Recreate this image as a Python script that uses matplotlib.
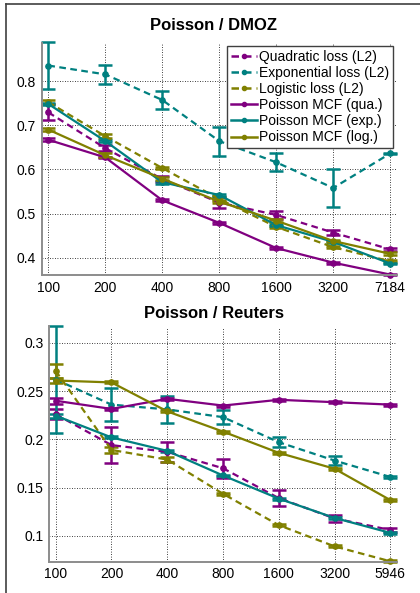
import matplotlib
matplotlib.use("Agg")
import matplotlib.pyplot as plt
from matplotlib.lines import Line2D

plt.rcParams['font.family'] = ['Liberation Sans', 'DejaVu Sans']

series_names = ["Quadratic loss (L2)", "Exponential loss (L2)", "Logistic loss (L2)",
                "Poisson MCF (qua.)", "Poisson MCF (exp.)", "Poisson MCF (log.)"]
series_colors = ["#800080", "#008080", "#808000", "#800080", "#008080", "#808000"]
series_styles = ["--", "--", "--", "-", "-", "-"]

# Poisson / DMOZ
dmoz_ticks = ["100", "200", "400", "800", "1600", "3200", "7184"]
dmoz_quad = [0.729, 0.648, 0.578, 0.525, 0.497, 0.457, 0.419]
dmoz_quad_err = [0.018, 0.007, 0.007, 0.012, 0.009, 0.006, 0.004]
dmoz_exp = [0.835, 0.815, 0.757, 0.664, 0.616, 0.558, 0.636]
dmoz_exp_err = [0.053, 0.022, 0.021, 0.033, 0.02, 0.042, 0.002]
dmoz_log = [0.752, 0.675, 0.603, 0.533, 0.470, 0.424, 0.392]
dmoz_log_err = [0.005, 0.005, 0.003, 0.004, 0.003, 0.003, 0.002]
dmoz_mcf_qua = [0.667, 0.627, 0.530, 0.479, 0.422, 0.389, 0.362]
dmoz_mcf_qua_err = [0.003, 0.002, 0.002, 0.002, 0.002, 0.002, 0.002]
dmoz_mcf_exp = [0.748, 0.664, 0.571, 0.542, 0.474, 0.436, 0.387]
dmoz_mcf_exp_err = [0.003, 0.003, 0.003, 0.003, 0.003, 0.002, 0.002]
dmoz_mcf_log = [0.690, 0.632, 0.579, 0.527, 0.484, 0.438, 0.409]
dmoz_mcf_log_err = [0.003, 0.004, 0.004, 0.004, 0.003, 0.003, 0.003]

# Poisson / Reuters
reut_ticks = ["100", "200", "400", "800", "1600", "3200", "5946"]
reut_quad = [0.226, 0.194, 0.187, 0.170, 0.139, 0.118, 0.106]
reut_quad_err = [0.005, 0.019, 0.010, 0.010, 0.008, 0.004, 0.002]
reut_exp = [0.262, 0.236, 0.231, 0.223, 0.197, 0.178, 0.161]
reut_exp_err = [0.055, 0.017, 0.014, 0.007, 0.005, 0.005, 0.001]
reut_log = [0.271, 0.189, 0.179, 0.1435, 0.111, 0.089, 0.0735]
reut_log_err = [0.007, 0.003, 0.003, 0.001, 0.001, 0.001, 0.001]
reut_mcf_qua = [0.240, 0.2315, 0.242, 0.235, 0.241, 0.2385, 0.236]
reut_mcf_qua_err = [0.003, 0.001, 0.001, 0.001, 0.001, 0.001, 0.001]
reut_mcf_exp = [0.2245, 0.202, 0.188, 0.1625, 0.1385, 0.1185, 0.103]
reut_mcf_exp_err = [0.002, 0.001, 0.001, 0.001, 0.001, 0.001, 0.001]
reut_mcf_log = [0.261, 0.259, 0.229, 0.208, 0.186, 0.1695, 0.137]
reut_mcf_log_err = [0.003, 0.001, 0.001, 0.001, 0.001, 0.001, 0.001]

dmoz_vals = [dmoz_quad, dmoz_exp, dmoz_log, dmoz_mcf_qua, dmoz_mcf_exp, dmoz_mcf_log]
dmoz_errs = [dmoz_quad_err, dmoz_exp_err, dmoz_log_err, dmoz_mcf_qua_err, dmoz_mcf_exp_err, dmoz_mcf_log_err]
reut_vals = [reut_quad, reut_exp, reut_log, reut_mcf_qua, reut_mcf_exp, reut_mcf_log]
reut_errs = [reut_quad_err, reut_exp_err, reut_log_err, reut_mcf_qua_err, reut_mcf_exp_err, reut_mcf_log_err]


def draw_panel(ax, ticks, vals, errs, ylim, yticks, yticklabels):
    x = list(range(len(ticks)))
    for v, e, c, ls in zip(vals, errs, series_colors, series_styles):
        ax.errorbar(x, v, yerr=e, color=c, ls=ls, lw=1.6, marker='o', ms=3.8,
                    capsize=5, capthick=1.8, elinewidth=1.8, clip_on=False,
                    dashes=(3, 2) if ls == "--" else (None, None))
    ax.set_xlim(-0.12, len(ticks) - 1 + 0.12)
    ax.set_ylim(*ylim)
    ax.set_xticks(x)
    ax.set_xticklabels(ticks)
    ax.set_yticks(yticks)
    ax.set_yticklabels(yticklabels)
    ax.tick_params(length=0, labelsize=10, pad=4)
    ax.grid(True, ls=(0, (1, 2)), color='black', lw=0.6)
    for s in ["top", "right"]:
        ax.spines[s].set_visible(False)
    for s in ["left", "bottom"]:
        ax.spines[s].set_color("#8c8c8c")
        ax.spines[s].set_linewidth(1.4)


fig = plt.figure(figsize=(4.2, 5.93), dpi=100)
W, H = 420.0, 593.0

ax1 = fig.add_axes([41.5 / W, 1 - 275 / H, (397 - 41.5) / W, (275 - 43) / H])
draw_panel(ax1, dmoz_ticks, dmoz_vals, dmoz_errs, (0.361, 0.886),
           [0.4, 0.5, 0.6, 0.7, 0.8], ["0.4", "0.5", "0.6", "0.7", "0.8"])

ax2 = fig.add_axes([49 / W, 1 - 561.5 / H, (397 - 49) / W, (561.5 - 326.5) / H])
draw_panel(ax2, reut_ticks, reut_vals, reut_errs, (0.0733, 0.317),
           [0.1, 0.15, 0.2, 0.25, 0.3], ["0.1", "0.15", "0.2", "0.25", "0.3"])

fig.text(213.5 / W, 1 - 25 / H, "Poisson / DMOZ", ha='center', va='center',
         fontsize=12, fontweight='bold')
fig.text(213.5 / W, 1 - 314 / H, "Poisson / Reuters", ha='center', va='center',
         fontsize=12, fontweight='bold')

handles = [Line2D([], [], color=c, ls=ls, lw=1.8, marker='o', ms=3,
                  dashes=(3, 2) if ls == "--" else (None, None))
           for c, ls in zip(series_colors, series_styles)]
leg = ax1.legend(handles, series_names, loc='upper right', bbox_to_anchor=(0.988, 0.985),
                 fontsize=10, handlelength=1.9, handletextpad=0.15, labelspacing=0.15,
                 borderpad=0.25, borderaxespad=0, fancybox=False, framealpha=1)
leg.get_frame().set_edgecolor("#404040")
leg.get_frame().set_linewidth(1.0)

# outer frame (top and left edges)
fig.add_artist(Line2D([6 / W, 1.0], [1 - 4 / H, 1 - 4 / H], color="#404040", lw=1.2,
                      transform=fig.transFigure))
fig.add_artist(Line2D([6 / W, 6 / W], [0.0, 1 - 4 / H], color="#404040", lw=1.2,
                      transform=fig.transFigure))

fig.savefig("out.png", dpi=100)
